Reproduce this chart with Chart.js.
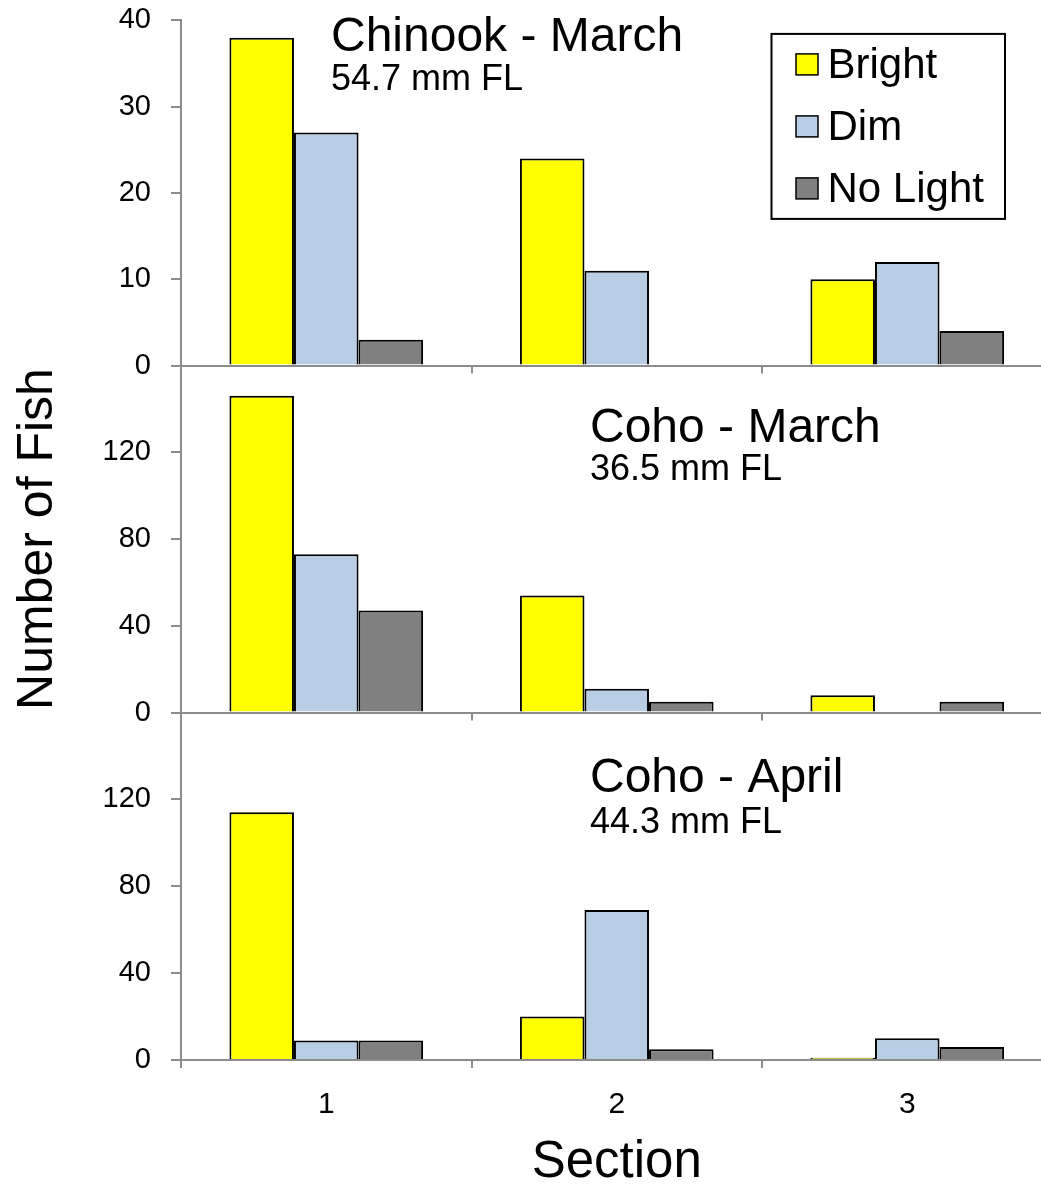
<!DOCTYPE html>
<html>
<head>
<meta charset="utf-8">
<script src="https://cdn.jsdelivr.net/npm/chart.js@4.4.1/dist/chart.umd.min.js"></script>
<style>
  html, body { margin: 0; padding: 0; overflow: hidden; background: #fff; width: 1041px; height: 1185px; }
  .panel { position: absolute; left: 0; width: 1060px; }
</style>
</head>
<body>
<div class="panel" style="top:-17px;height:420px"><canvas id="chinook"></canvas></div>
<div class="panel" style="top:328px;height:422px"><canvas id="cohoMar"></canvas></div>
<div class="panel" style="top:675px;height:511px"><canvas id="cohoApr"></canvas></div>
<script>
// data
const sections = ['1', '2', '3'];
const lightLevels = ['Bright', 'Dim', 'No Light'];

const chinookBright = [38, 24, 10];
const chinookDim = [27, 11, 12];
const chinookNoLight = [3, 0, 4];

const cohoMarBright = [146, 54, 8];
const cohoMarDim = [73, 11, 0];
const cohoMarNoLight = [47, 5, 5];

const cohoAprBright = [114, 20, 1];
const cohoAprDim = [9, 69, 10];
const cohoAprNoLight = [9, 5, 6];

const chinookTicks = [0, 10, 20, 30, 40];
const cohoTicks = [0, 40, 80, 120];

const lightColors = ['#FFFF00', '#B9CDE5', '#808080'];
const axisGray = '#8c8c8c';
const FONT = '"Liberation Sans", Arial, sans-serif';

Chart.defaults.font.family = FONT;
Chart.defaults.color = '#000';

// titles, sub-labels and the framed legend
const panelText = {
  id: 'panelText',
  afterDraw(chart, args, o) {
    const {ctx, chartArea: a} = chart;
    ctx.save();
    ctx.fillStyle = '#000';
    ctx.textBaseline = 'alphabetic';
    ctx.textAlign = 'left';
    ctx.font = '48px ' + FONT;
    ctx.fillText(o.title, a.left + o.dx, a.top + o.titleDy);
    ctx.font = '36px ' + FONT;
    ctx.fillText(o.sub, a.left + o.dx, a.top + o.subDy);

    if (o.legend) {
      const bx = a.right - 281, by = a.top + 13.5;
      ctx.strokeStyle = '#000';
      ctx.lineWidth = 2;
      ctx.strokeRect(bx, by, 233.5, 185);
      ctx.font = '42px ' + FONT;
      ctx.textBaseline = 'middle';
      chart.data.datasets.forEach((ds, i) => {
        const cy = by + 30.5 + i * 62;
        ctx.fillStyle = ds.backgroundColor;
        ctx.fillRect(bx + 24.5, cy - 10.5, 22, 21);
        ctx.lineWidth = 1.5;
        ctx.strokeRect(bx + 24.5, cy - 10.5, 22, 21);
        ctx.fillStyle = '#000';
        ctx.fillText(ds.label, bx + 56, cy + 2);
      });
    }
    ctx.restore();
  }
};

function makePanel(id, series, ymax, yticks, text, bottom) {
  return new Chart(document.getElementById(id), {
    type: 'bar',
    data: {
      labels: sections,
      datasets: series.map((vals, i) => ({
        label: lightLevels[i],
        data: vals,
        backgroundColor: lightColors[i],
        borderColor: '#000',
        borderWidth: 2,
        barPercentage: 1,
        categoryPercentage: 2 / 3
      }))
    },
    options: {
      responsive: true,
      maintainAspectRatio: false,
      animation: false,
      layout: { padding: { top: 3, left: 0, right: 7.5, bottom: 0 } },
      plugins: {
        legend: { display: false },
        tooltip: { enabled: false },
        panelText: text
      },
      scales: {
        x: {
          offset: true,
          afterFit: s => { s.height = bottom ? 126 : 20; },
          grid: { offset: true, drawOnChartArea: false, tickLength: 8, color: axisGray, lineWidth: 2 },
          border: { color: axisGray, width: 2 },
          ticks: { display: bottom, font: { size: 30 }, color: '#000', padding: 19 },
          title: {
            display: bottom, text: 'Section', color: '#000',
            font: { size: 51, lineHeight: 0.9 }, padding: { top: 0, bottom: 0 }
          }
        },
        y: {
          min: 0,
          max: ymax,
          afterFit: s => { s.width = 181; },
          afterBuildTicks: s => { s.ticks = yticks.map(v => ({ value: v })); },
          grid: { drawOnChartArea: false, tickLength: 10, color: axisGray, lineWidth: 2 },
          border: { color: axisGray, width: 2 },
          ticks: { font: { size: 29 }, color: '#000', padding: 20 },
          title: {
            display: !!text.yTitle, text: 'Number of Fish', color: '#000',
            font: { size: 50, lineHeight: 1 }, padding: { top: 13, bottom: 0 }
          }
        }
      }
    },
    plugins: [panelText]
  });
}

makePanel('chinook', [chinookBright, chinookDim, chinookNoLight], 40, chinookTicks,
  { title: 'Chinook - March', sub: '54.7 mm FL', dx: 150, titleDy: 31, subDy: 70, legend: true }, false);
makePanel('cohoMar', [cohoMarBright, cohoMarDim, cohoMarNoLight], 160, cohoTicks,
  { title: 'Coho - March', sub: '36.5 mm FL', dx: 409, titleDy: 77, subDy: 115, yTitle: true }, false);
makePanel('cohoApr', [cohoAprBright, cohoAprDim, cohoAprNoLight], 160, cohoTicks,
  { title: 'Coho - April', sub: '44.3 mm FL', dx: 409, titleDy: 80, subDy: 121 }, true);
</script>
</body>
</html>
